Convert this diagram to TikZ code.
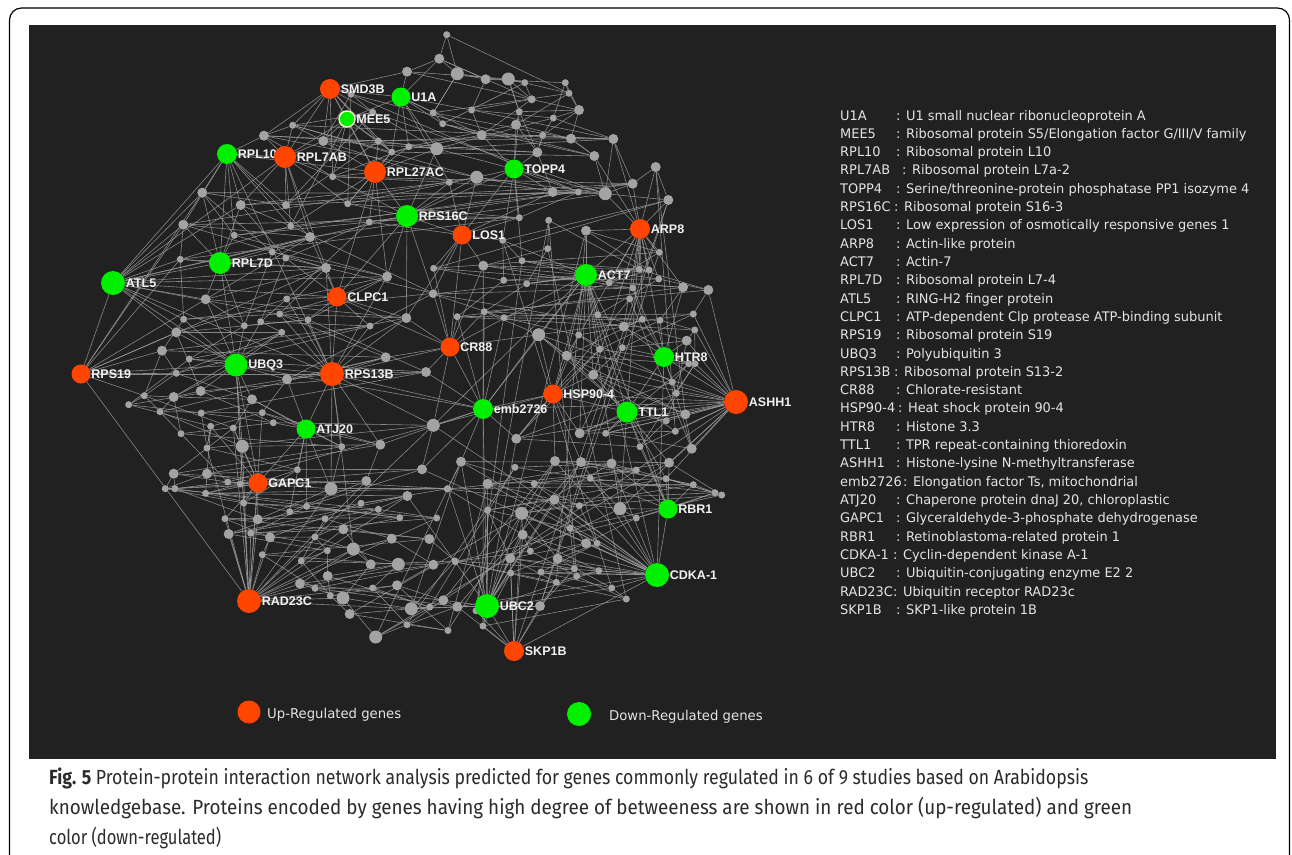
\documentclass[tikz,border=0pt]{standalone}
\usepackage{fontspec}
\usepackage{graphicx}
\setmainfont{Liberation Sans}
\newfontfamily\legfont[FakeStretch=0.98]{DejaVu Sans}
\newfontfamily\capfont{Fira Sans}
\pgfdeclarelayer{panel}
\pgfdeclarelayer{edges}
\pgfsetlayers{panel,edges,main}
\definecolor{upc}{HTML}{FF4500}
\definecolor{downc}{HTML}{00F000}
\definecolor{panelc}{HTML}{212121}
\definecolor{grayn}{HTML}{A3A3A3}
\definecolor{edgec}{HTML}{A0A0A0}
\definecolor{labc}{HTML}{F2F2F2}
\definecolor{legc}{HTML}{E4E4E4}
\definecolor{capc}{HTML}{2B2B2B}
\tikzset{
 gn/.style={circle, fill=grayn, inner sep=0pt, draw=none},
 hub/.style={circle, inner sep=0pt, draw=none, label distance=1.5pt},
 up/.style={hub, fill=upc},
 down/.style={hub, fill=downc},
 lab/.style={font=\bfseries\fontsize{12.5}{14}\selectfont, text=labc, inner sep=0.5pt},
 edge/.style={draw=edgec, line width=0.6pt, opacity=0.8},
 legt/.style={font=\legfont\fontsize{13.2}{15}\selectfont, text=legc, inner sep=0pt, anchor=base west},
 capt/.style={font=\capfont\fontsize{20.5}{22}\selectfont, text=capc, inner sep=0pt, anchor=base west},
}
\newcommand\hubedges[2]{\foreach \b in {#2}{\draw[edge] (#1) -- (\b);}}
\newcommand\legline[5]{%
 \node[legt] (ln#1) at (840,{120+18.31*(#1-1)}) {#2};
 \node[legt] (ld#1) at (#3,{120+18.31*(#1-1)}) {: #4};}
\begin{document}
\begin{tikzpicture}[x=1pt,y=-1pt]
\useasboundingbox (0,0) rectangle (1292,854);
\begin{pgfonlayer}{panel}
\fill[white] (0,0) rectangle (1292,854);
\fill[panelc] (28.5,24.5) rectangle (1276,759);
\end{pgfonlayer}
\draw[line width=1.2pt, rounded corners=12pt] (9.5,880) -- (9.5,8) -- (1289.5,8) -- (1289.5,880);

% gray nodes
\foreach \n/\x/\y/\d in {
1/446.7/34.7/7, 2/439.3/58.7/10, 3/407/71.7/10, 4/457.3/73.7/13, 5/485.7/79.3/10,
6/508.3/79/13, 7/524.7/82.7/7, 8/565.3/82.7/7, 9/569/93.3/7, 10/531.7/99.3/8,
11/579/110/10, 12/433.3/112.7/7, 13/471.7/110/7, 14/519.3/111.7/7, 15/442.7/123.7/7,
16/553.3/118/7, 17/516/124.7/10, 18/481.7/135/10, 19/542.7/135.3/7, 20/571/138.7/10,
21/613.3/139/10, 22/537.3/152.3/10, 23/594.3/156/10, 24/436.7/148.7/13, 25/408.7/146.7/7,
26/391.7/152/7, 27/378.3/141/7, 28/323.3/141/10, 29/292.7/125.3/7, 30/264/135.7/10,
31/351/94.3/7, 32/372.7/112.3/7, 33/332.7/176.7/7, 34/347.7/203.7/7, 35/286/205/8,
36/449.3/182.3/7, 37/476.7/177.3/13, 38/552.7/192/10, 39/578.3/192/7, 40/605.3/193.7/13,
41/632.7/183.7/10, 42/519.3/217.7/7, 43/202.3/192.7/10, 44/240.7/205/10, 45/183.3/224.7/10,
46/234.3/235.3/7, 47/290.7/226/7, 48/310/237/10, 49/369.3/222/7, 50/180.3/259.3/7,
51/272.3/252/7, 52/285.7/258/7, 53/326/268/10, 54/387/276.7/10, 55/433.3/293.3/8,
56/205.7/299.3/10, 57/286.7/299/7, 58/183.7/319.3/7, 59/244.3/325.7/7, 60/260.7/321.7/7,
61/279.7/314/7, 62/308/319.7/7, 63/370/326/7, 64/406.3/318/10, 65/176.3/332.3/10,
66/162/350.7/10, 67/189.3/359/7, 68/281.7/332.3/7, 69/385.7/357.3/10, 70/426/372/10,
71/176.3/373.3/7, 72/287/379.3/10, 73/200.7/391/10, 74/144.3/395.7/7, 75/128.7/404.7/7,
76/173.7/397/10, 77/160/411.7/7, 78/201.3/413/7, 79/252/399.3/10, 80/262.3/412.7/7,
81/273.3/422.7/7, 82/233.3/428/7, 83/210.7/426.3/7, 84/181/433.7/7, 85/242.3/446.3/13,
86/207/448/7, 87/341.7/446.7/7, 88/380.3/444.7/10, 89/433.3/425.3/13, 90/173.7/473.7/10,
91/207/473.7/10, 92/227.7/482/7, 93/240.3/484/7, 94/297.3/469.7/7, 95/331/488.7/13,
96/366.3/481/10, 97/422/469.3/10, 98/447.7/488.7/7, 99/165.3/488.7/7, 100/175/488.7/7,
101/205.7/493.3/7, 102/243.7/503/7, 103/257.7/519.3/10, 104/289.7/511.7/7, 105/306.7/506.3/7,
106/361/503.3/7, 107/378.3/509.3/7, 108/399.7/517.7/7, 109/407.3/496/10, 110/436.7/518/7,
111/225/518.7/7, 112/228.7/534/10, 113/250.7/533.3/7, 114/270/537.3/10, 115/325/518.7/7,
116/343.3/529.3/10, 117/315/537/7, 118/391.7/538.7/10, 119/429.3/539/10, 120/327.3/550.7/7,
121/353.3/549/13, 122/262.3/554.7/7, 123/301.3/561/7, 124/370.7/564.3/10, 125/398.3/564.3/13,
126/433.3/564.7/10, 127/455/561/7, 128/327.7/576/10, 129/300/583.7/10, 130/315/588.3/7,
131/330.3/595.7/7, 132/343/598/13, 133/372.7/588/7, 134/397/585.3/10, 135/411.3/608.7/13,
136/429.7/607/7, 137/443.3/600.3/10, 138/457.3/606.7/10, 139/349.7/614/10, 140/375.7/637/13,
141/407/624.7/7, 142/448/630.5/7, 143/461/461.7/10, 144/515/467.3/7, 145/555/461/10,
146/581/462/10, 147/611.5/463.5/10, 148/669/462.7/10, 149/636.3/470/7, 150/487.7/483.7/10,
151/534.3/483.7/7, 152/590.3/478.3/7, 153/666/478.7/7, 154/693.3/484.7/7, 155/715/492.7/7,
156/721.7/495/7, 157/447.3/489/7, 158/554.3/499.7/10, 159/579.3/505.7/7, 160/620/508.7/13,
161/487.7/510/7, 162/521.7/513.3/13, 163/636.3/518/7, 164/570/528.3/7, 165/522.7/534.7/10,
166/586/543.3/10, 167/597/543.3/7, 168/530.3/551/7, 169/510.3/558.3/10, 170/557.7/558.7/10,
171/455.3/561.7/7, 172/574.3/568.7/7, 173/598.7/570.7/7, 174/510.7/573/7, 175/541/572/7,
176/576.7/576.3/7, 177/556.3/582.3/7, 178/611.7/588/7, 179/626.3/599/7, 180/540/606/10,
181/476/610.7/7, 182/483/626/7, 183/668.3/200/10, 184/548.7/220.3/7, 185/586/230.7/10,
186/502.7/240.3/7, 187/547.7/248.7/7, 188/659.3/252.3/7, 189/522/260.7/7, 190/483.3/265.7/10,
191/433.7/268.3/7, 192/639.3/269.3/7, 193/649/270/7, 194/503.7/280.3/7, 195/526.7/283.7/7,
196/609.3/282.7/7, 197/658.7/279/7, 198/632.7/288/7, 199/683/287.3/10, 200/708.3/290/10,
201/433/294/8, 202/457.3/316.7/7, 203/484.3/311.7/7, 204/504/317.7/7, 205/597.7/314.7/7,
206/642.3/319.3/7, 207/660/320.3/7, 208/693.3/314/7, 209/623.7/326.7/10, 210/694.7/330/7,
211/538.7/334.7/13, 212/578.7/335/7, 213/686.7/340.7/10, 214/566.7/355.7/10, 215/599.7/349.3/7,
216/622.3/347.7/7, 217/688.7/363.7/7, 218/695/363.7/7, 219/593.3/374.7/10, 220/672.3/382/7,
221/676.3/393.3/7, 222/685.3/414.3/10, 223/516.3/438.7/10, 224/579.7/433.3/10, 225/605.7/433.3/7,
226/640/446.7/7, 227/675.3/431.3/7, 228/691.7/448.7/10, 229/666.3/420.7/7, 230/655.7/167/10,
231/629.7/299/7}
 \node[gn, minimum size=\d pt] (g\n) at (\x,\y) {};

% colored nodes
\node[up, minimum size=20pt, label={[lab]0:SMD3B}] (smd) at (330,89) {};
\node[down, minimum size=19pt, label={[lab]0:U1A}] (u1a) at (401,97) {};
\node[down, minimum size=16pt, draw=yellow!15, line width=1.4pt, label={[lab]0:MEE5}] (mee) at (347,119) {};
\node[down, minimum size=20pt, label={[lab]0:RPL10}] (rpl10) at (227,154) {};
\node[up, minimum size=22pt, label={[lab]0:RPL7AB}] (rpl7ab) at (285,157) {};
\node[up, minimum size=22pt, label={[lab]0:RPL27AC}] (rpl27) at (375,172) {};
\node[down, minimum size=19pt, label={[lab]0:TOPP4}] (topp) at (514,169) {};
\node[down, minimum size=22pt, label={[lab]0:RPS16C}] (rps16) at (407,216) {};
\node[up, minimum size=19pt, label={[lab]0:LOS1}] (los) at (462,235) {};
\node[up, minimum size=20pt, label={[lab]0:ARP8}] (arp) at (640,229) {};
\node[down, minimum size=22pt, label={[lab]0:ACT7}] (act) at (586,275) {};
\node[down, minimum size=22pt, label={[lab]0:RPL7D}] (rpl7d) at (220,263) {};
\node[down, minimum size=24pt, label={[lab]0:ATL5}] (atl) at (113,283) {};
\node[up, minimum size=19pt, label={[lab]0:CLPC1}] (clpc) at (337,297) {};
\node[up, minimum size=19pt, label={[lab]0:CR88}] (cr) at (450,347) {};
\node[up, minimum size=19pt, label={[lab]0:RPS19}] (rps19) at (81,374) {};
\node[down, minimum size=23pt, label={[lab]0:UBQ3}] (ubq) at (236,365) {};
\node[up, minimum size=24pt, label={[lab]0:RPS13B}] (rps13) at (332,374) {};
\node[down, minimum size=20pt, label={[lab]0:HTR8}] (htr) at (664,357) {};
\node[up, minimum size=19pt, label={[lab]0:HSP90-4}] (hsp) at (553,394) {};
\node[down, minimum size=20pt, label={[lab]0:emb2726}] (emb) at (483,409) {};
\node[down, minimum size=21pt, label={[lab]0:TTL1}] (ttl) at (627,412) {};
\node[up, minimum size=24pt, label={[lab]0:ASHH1}] (ashh) at (736,402) {};
\node[down, minimum size=19pt, label={[lab]0:ATJ20}] (atj) at (306,429) {};
\node[up, minimum size=19pt, label={[lab]0:GAPC1}] (gapc) at (258,483) {};
\node[down, minimum size=19pt, label={[lab]0:RBR1}] (rbr) at (668,509) {};
\node[down, minimum size=24pt, label={[lab]0:CDKA-1}] (cdka) at (657,575) {};
\node[down, minimum size=24pt, label={[lab]0:UBC2}] (ubc) at (487,606) {};
\node[up, minimum size=20pt, label={[lab]0:SKP1B}] (skp) at (514,651) {};
\node[up, minimum size=24pt, label={[lab]0:RAD23C}] (rad) at (249,601) {};

\begin{pgfonlayer}{edges}
\foreach \i in {1,...,228}{\pgfmathtruncatemacro{\j}{\i+3}\draw[edge] (g\i) -- (g\j);}
\foreach \i in {1,...,223}{\pgfmathtruncatemacro{\j}{\i+8}\draw[edge] (g\i) -- (g\j);}
\foreach \a/\b in {1/2,2/3,2/4,4/5,5/6,6/7,8/9,9/11,11/20,11/16,10/6,12/4,13/18,14/6,15/18,16/21,17/22,19/22,20/21,20/23,21/41,21/40,22/38,23/40,24/25,26/27,28/29,29/30,31/32,38/39,39/40,40/41,41/230,230/183,183/40,74/75,74/76,77/76,99/100,99/90,100/90,101/91,154/155,155/156,153/154,176/177,178/179,192/193,217/218,220/221,228/222,50/45,71/66,84/77,86/83,143/98,140/141,141/142,135/136,137/138}
 \draw[edge] (g\a) -- (g\b);
\hubedges{atl}{rpl10,rpl7d,rps19,ubq,rps13,clpc,rpl7ab,g43,g45,g50,g56,g58,g65,g44,g53,g62,g54,g48,rps16}
\hubedges{rps19}{ubq,rps13,g65,g66,g56,g45,g50,g53,rad,g74,g71,g43}
\hubedges{rad}{g85,g103,g112,g113,g114,gapc,ubq,g129,g132,g121,g125,g89,g96,g95,g109,g116,g118,g135,g134,g122,g111,g86,g80,g82}
\hubedges{cdka}{g145,g146,g147,g150,g143,g151,g162,g165,g169,g174,g175,rbr,skp,g160,g158,g166,g167,g170,g173,g178,g138,g127,act,htr,g89,g97}
\hubedges{ubc}{g150,g161,g143,g165,g169,g162,g158,g145,g146,g174,g180,skp,g138,g137,g135,g181,g182,emb,g223,g109,g98}
\hubedges{skp}{g180,g169,g174,g165,g181,g182,g138,g175,g177,g162}
\hubedges{ashh}{htr,ttl,g222,g228,g227,g221,g213,g200,g224,g225,g226,g149,g148,hsp,emb,g211,g219,g160,g210,g217,g218,g208,g229,g214,g223,g153}
\hubedges{arp}{act,g185,g188,g192,g193,g196,g198,g209,g230,g41,g40,g183,htr,g206,g199,g197,g23,g21,ttl,g214,g219}
\hubedges{act}{emb,hsp,g211,g214,g219,cr,g190,g194,g195,g196,g185,g205,g212,ttl,g160,g189,g186,g215,g216,g89,g224,rbr}
\hubedges{htr}{ttl,g206,g207,g213,g216,g217,g220,g209,g199,g198,g221}
\hubedges{ttl}{g219,g224,g225,g226,g229,g148,g160,g153,g214,hsp,g211}
\hubedges{emb}{cr,hsp,g223,g211,g89,g70,g143,rps13,ubq,g202,g203,g204,g88,g97}
\hubedges{hsp}{g219,g214,g224,g211,g223,g146,g212,g215,g145,g89}
\hubedges{cr}{los,g211,g202,g64,g70,clpc,g89,rps13,g55,g191,g69,g203,g190}
\hubedges{los}{rps16,g36,g37,g186,g190,g191,g55,g64,g42,g49,g38,topp}
\hubedges{rps16}{rpl27,g34,g49,g37,g36,g54,g64,topp,g24,g33,g42,g55}
\hubedges{topp}{g17,g22,g37,g42,g38,g186,g189,g14,g18,g40,g24,g39}
\hubedges{rpl27}{smd,mee,g33,g34,g28,g26,g27,g49,g54,rpl10,clpc,g25,g24,g47}
\hubedges{rpl7ab}{rpl10,smd,mee,g29,g30,g35,g44,g47,g48,g33,g53,g34,g28}
\hubedges{rpl10}{g43,g44,g45,g35,g47,g30,rpl7d,rps13,g46,g48}
\hubedges{smd}{mee,g28,g29,g30,g32,g31,u1a,g26,g27,g33,g3}
\hubedges{u1a}{g3,g12,g15,g24,mee,g25,g26,g36,g2,g13,g18}
\hubedges{mee}{g28,g32,g33,g27,g47,g26}
\hubedges{rpl7d}{g43,g44,g46,g50,g51,g56,g59,ubq,g53,g48,g52,g45}
\hubedges{clpc}{g53,g54,g62,g63,g61,rps13,rps16,g64,g48,g57,g52}
\hubedges{ubq}{g56,g59,g65,g67,g73,g79,g85,gapc,rad,rps13,g72,g60,g68,g76,g58}
\hubedges{rps13}{g62,g63,g68,g72,g87,g88,atj,g95,g53,g54,g69,g57,g61,g121,g70,g89,g64}
\hubedges{atj}{g81,g87,g94,g88,g95,g72,g79,gapc,g104,g105,g80}
\hubedges{gapc}{g91,g92,g93,g102,g103,g85,g94,g82,g83,g101,g111}
\hubedges{rbr}{g148,g153,g160,g163,g154,g152,g147,g226,ttl,g155}
\end{pgfonlayer}

% legend list
\legline{1}{U1A}{896}{U1 small nuclear ribonucleoprotein A}{}
\legline{2}{MEE5}{896}{Ribosomal protein S5/Elongation factor G/III/V family}{}
\legline{3}{RPL10}{896}{Ribosomal protein L10}{}
\legline{4}{RPL7AB}{902}{Ribosomal protein L7a-2}{}
\legline{5}{TOPP4}{896}{Serine/threonine-protein phosphatase PP1 isozyme 4}{}
\legline{6}{RPS16C}{894}{Ribosomal protein S16-3}{}
\legline{7}{LOS1}{896}{Low expression of osmotically responsive genes 1}{}
\legline{8}{ARP8}{896}{Actin-like protein}{}
\legline{9}{ACT7}{896}{Actin-7}{}
\legline{10}{RPL7D}{896}{Ribosomal protein L7-4}{}
\legline{11}{ATL5}{896}{RING-H2 finger protein}{}
\legline{12}{CLPC1}{896}{ATP-dependent Clp protease ATP-binding subunit}{}
\legline{13}{RPS19}{896}{Ribosomal protein S19}{}
\legline{14}{UBQ3}{896}{Polyubiquitin 3}{}
\legline{15}{RPS13B}{894}{Ribosomal protein S13-2}{}
\legline{16}{CR88}{896}{Chlorate-resistant}{}
\legline{17}{HSP90-4}{898}{Heat shock protein 90-4}{}
\legline{18}{HTR8}{896}{Histone 3.3}{}
\legline{19}{TTL1}{896}{TPR repeat-containing thioredoxin}{}
\legline{20}{ASHH1}{896}{Histone-lysine N-methyltransferase}{}
\legline{21}{emb2726}{903}{Elongation factor Ts, mitochondrial}{}
\legline{22}{ATJ20}{896}{Chaperone protein dnaJ 20, chloroplastic}{}
\legline{23}{GAPC1}{896}{Glyceraldehyde-3-phosphate dehydrogenase}{}
\legline{24}{RBR1}{896}{Retinoblastoma-related protein 1}{}
\legline{25}{CDKA-1}{893}{Cyclin-dependent kinase A-1}{}
\legline{26}{UBC2}{896}{Ubiquitin-conjugating enzyme E2 2}{}
\legline{27}{RAD23C}{893}{Ubiquitin receptor RAD23c}{}
\legline{28}{SKP1B}{896}{SKP1-like protein 1B}{}

% bottom legend
\node[up, minimum size=23pt] (kup) at (249,712) {};
\node[legt, font=\legfont\fontsize{13.5}{15}\selectfont] (kupt) at (267,718) {Up-Regulated genes};
\node[down, minimum size=24pt] (kdown) at (579,714) {};
\node[legt, font=\legfont\fontsize{13.5}{15}\selectfont] (kdownt) at (609,720) {Down-Regulated genes};

% caption
\node[capt] (cap1) at (49,784) {\resizebox{1039pt}{\height}{\textbf{Fig. 5} Protein-protein interaction network analysis predicted for genes commonly regulated in 6 of 9 studies based on Arabidopsis}};
\node[capt] (cap2) at (49,814) {\resizebox{1083pt}{\height}{knowledgebase. Proteins encoded by genes having high degree of betweeness are shown in red color (up-regulated) and green}};
\node[capt] (cap3) at (49,844) {\resizebox{172pt}{\height}{color (down-regulated)}};
\end{tikzpicture}
\end{document}
